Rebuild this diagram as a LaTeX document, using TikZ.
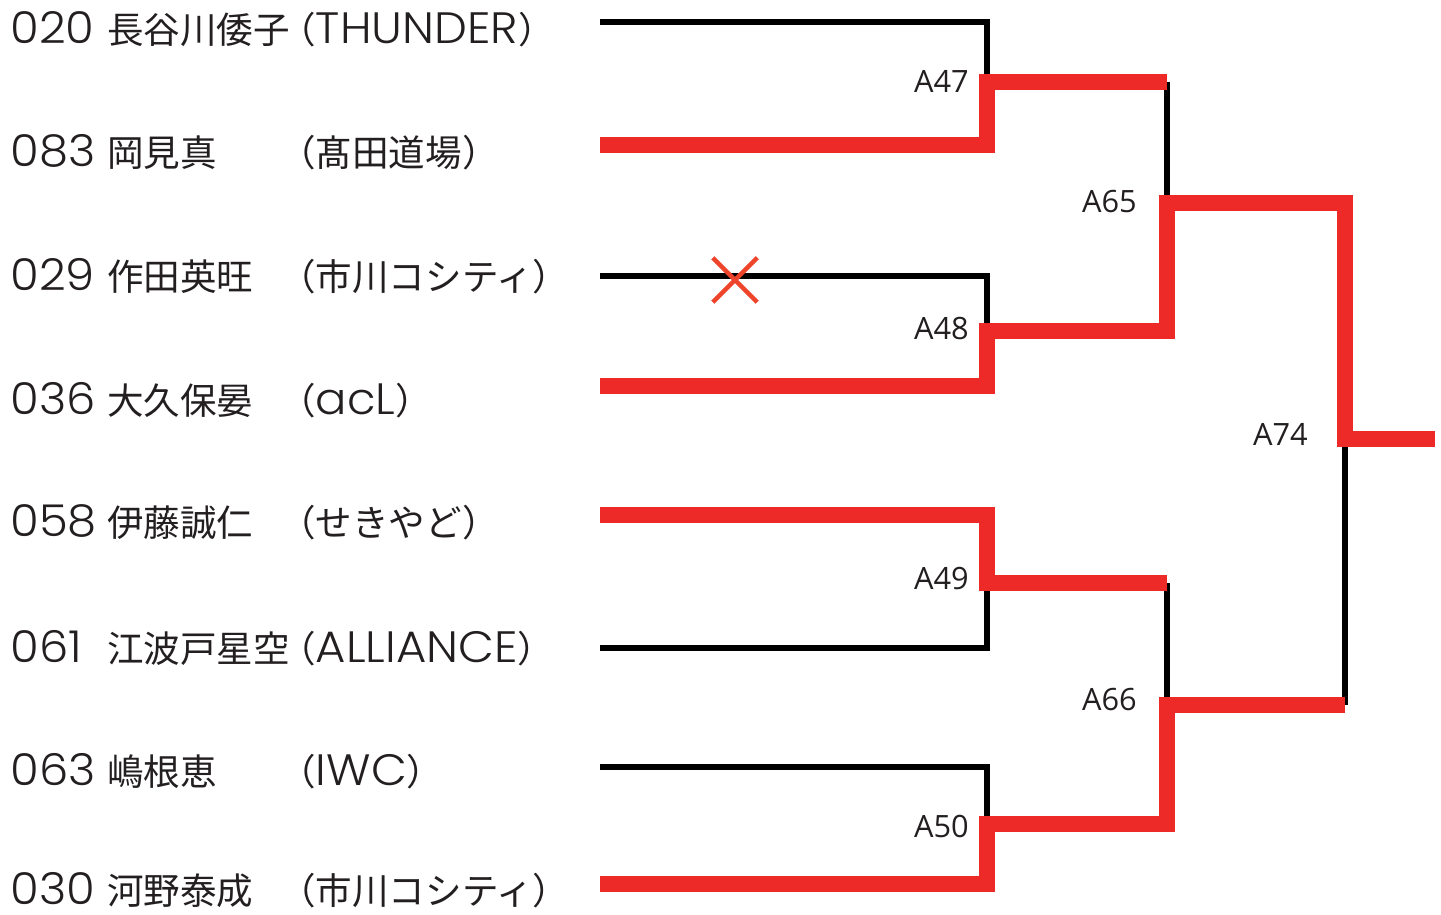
\documentclass[tikz,border=0pt]{standalone}
\usepackage{fontspec}
\setmainfont{Poppins Light}[FakeStretch=1.06]
\newfontfamily\jp{Noto Sans CJK JP}
\newfontfamily\lbl{Open Sans}
\usetikzlibrary{shapes.misc}
\definecolor{winred}{RGB}{238,42,41}
\definecolor{xred}{RGB}{238,68,44}
\definecolor{ink}{RGB}{35,31,32}
\newcommand{\jpt}[1]{{\jp\fontsize{20.8}{21}\selectfont #1}}
\tikzset{
  loser/.style={line width=0.13cm, black},
  winner/.style={line width=0.32cm, winred},
  seed/.style={anchor=base west, inner sep=0pt, text depth=0pt, text=ink, font=\fontsize{25}{25}\selectfont},
  player/.style={anchor=base west, inner sep=0pt, text=ink, font=\jp\fontsize{20.8}{21}\selectfont},
  club/.style={anchor=base west, inner sep=0pt, text=ink, font=\fontsize{25}{25}\selectfont},
  matchno/.style={anchor=east, inner sep=0pt, text=ink, font=\lbl\fontsize{17.5}{18}\selectfont},
}
\begin{document}
\begin{tikzpicture}[x=0.02cm, y=-0.02cm]
        \useasboundingbox (0,0) rectangle (1441,915);

        % players
        \node[seed] (s1) at (10,44) {020};
        \node[player] (n1) at (107,44) {長谷川倭子};
        \node[club] (c1) at (279,44) {\jpt{（}THUNDER\jpt{）}};
        \node[seed] (s2) at (10,167) {083};
        \node[player] (n2) at (107,167) {岡見真};
        \node[club] (c2) at (279,167) {\jpt{（髙田道場）}};
        \node[seed] (s3) at (10,291) {029};
        \node[player] (n3) at (107,291) {作田英旺};
        \node[club] (c3) at (279,291) {\jpt{（市川コシティ）}};
        \node[seed] (s4) at (10,415) {036};
        \node[player] (n4) at (107,415) {大久保晏};
        \node[club] (c4) at (279,415) {\jpt{（}acL\jpt{）}};
        \node[seed] (s5) at (10,537) {058};
        \node[player] (n5) at (107,537) {伊藤誠仁};
        \node[club] (c5) at (279,537) {\jpt{（せきやど）}};
        \node[seed] (s6) at (10,662) {061};
        \node[player] (n6) at (107,662) {江波戸星空};
        \node[club] (c6) at (279,662) {\jpt{（}ALLIANCE\jpt{）}};
        \node[seed] (s7) at (10,785) {063};
        \node[player] (n7) at (107,785) {嶋根恵};
        \node[club] (c7) at (279,785) {\jpt{（}IWC\jpt{）}};
        \node[seed] (s8) at (10,904) {030};
        \node[player] (n8) at (107,904) {河野泰成};
        \node[club] (c8) at (279,904) {\jpt{（市川コシティ）}};

        % bracket
        \coordinate (p1) at (600,22);
        \coordinate (p2) at (600,145);
        \coordinate (p3) at (600,276);
        \coordinate (p4) at (600,386);
        \coordinate (p5) at (600,515);
        \coordinate (p6) at (600,648);
        \coordinate (p7) at (600,767);
        \coordinate (p8) at (600,884);
        \coordinate (m47) at (987,82);
        \coordinate (m48) at (987,331);
        \coordinate (m49) at (987,583);
        \coordinate (m50) at (987,824);
        \coordinate (m65) at (1167,203);
        \coordinate (m66) at (1167,705);
        \coordinate (m74) at (1345,439);
        \coordinate (champ) at (1435,439);

        \draw[loser] (p1) -| (m47);
        \draw[loser] (p3) -| (m48);
        \draw[loser] (p6) -| (m49);
        \draw[loser] (p7) -| (m50);
        \draw[loser] (m47 -| m65) -- (m65);
        \draw[loser] (m49 -| m66) -- (m66);
        \draw[loser] (m66 -| m74) -- (m74);

        \draw[winner] (p2) -| (m47) -- (m47 -| m65);
        \draw[winner] (p4) -| (m48) -| (m65) -| (m74) -- (champ);
        \draw[winner] (p5) -| (m49) -- (m49 -| m66);
        \draw[winner] (p8) -| (m50) -| (m66) -- (m66 -| m74);

        \node[cross out, draw=xred, line width=0.09cm, minimum size=0.8cm, inner sep=0pt] (x3) at (735,280) {};

        % match numbers
        \node[matchno] (l47) at (969,81) {A47};
        \node[matchno] (l48) at (969,329) {A48};
        \node[matchno] (l49) at (969,579) {A49};
        \node[matchno] (l50) at (969,827) {A50};
        \node[matchno] (l65) at (1137,202) {A65};
        \node[matchno] (l66) at (1137,700) {A66};
        \node[matchno] (l74) at (1308,434) {A74};
      \end{tikzpicture}
\end{document}
